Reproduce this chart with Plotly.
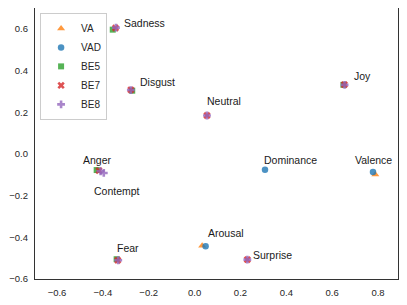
import plotly.graph_objects as go

# ---- data ----
va_labels = ["Valence", "Arousal"]
va_x = [0.788, 0.033]
va_y = [-0.098, -0.440]

vad_labels = ["Valence", "Arousal", "Dominance"]
vad_x = [0.778, 0.048, 0.307]
vad_y = [-0.086, -0.443, -0.075]

be5_labels = ["Anger", "Disgust", "Fear", "Joy", "Sadness"]
be5_x = [-0.427, -0.272, -0.340, 0.649, -0.357]
be5_y = [-0.077, 0.304, -0.505, 0.332, 0.597]

be7_labels = ["Anger", "Disgust", "Fear", "Joy", "Sadness", "Neutral", "Surprise"]
be7_x = [-0.417, -0.278, -0.335, 0.653, -0.345, 0.054, 0.230]
be7_y = [-0.080, 0.308, -0.510, 0.333, 0.605, 0.185, -0.507]

be8_labels = ["Anger", "Contempt", "Disgust", "Fear", "Joy", "Sadness", "Neutral", "Surprise"]
be8_x = [-0.410, -0.396, -0.278, -0.333, 0.654, -0.343, 0.054, 0.230]
be8_y = [-0.083, -0.091, 0.307, -0.510, 0.332, 0.607, 0.185, -0.507]

# text label anchors (data coordinates, left edge / vertical middle of text)
label_text = ["Sadness", "Disgust", "Neutral", "Anger", "Contempt", "Dominance",
              "Valence", "Arousal", "Surprise", "Fear", "Joy"]
label_x = [-0.317, -0.249, 0.046, -0.496, -0.448, 0.294, 0.691, 0.048, 0.246, -0.348, 0.688]
label_y = [0.628, 0.344, 0.253, -0.030, -0.177, -0.027, -0.027, -0.380, -0.483, -0.451, 0.373]

x_ticks = [-0.6, -0.4, -0.2, 0.0, 0.2, 0.4, 0.6, 0.8]
y_ticks = [-0.6, -0.4, -0.2, 0.0, 0.2, 0.4, 0.6]

FONT = "Liberation Sans, Arial, sans-serif"
series = [
    ("VA", va_x, va_y, va_labels, "#ff7f0e", "triangle-up", 7),
    ("VAD", vad_x, vad_y, vad_labels, "#1f77b4", "circle", 6.5),
    ("BE5", be5_x, be5_y, be5_labels, "#2ca02c", "square", 6),
    ("BE7", be7_x, be7_y, be7_labels, "#d62728", "x", 6.5),
    ("BE8", be8_x, be8_y, be8_labels, "#9467bd", "cross", 6.5),
]

fig = go.Figure()
for name, xs, ys, labs, col, sym, sz in series:
    fig.add_trace(go.Scatter(
        x=xs, y=ys, mode="markers", name=name, text=labs,
        marker=dict(color=col, symbol=sym, size=sz, opacity=0.8, line=dict(width=0)),
    ))

for t, x, y in zip(label_text, label_x, label_y):
    fig.add_annotation(x=x, y=y, text=t, showarrow=False, xanchor="left", yanchor="middle",
                       font=dict(family=FONT, size=10.5, color="#1a1a1a"))

axis_common = dict(
    showline=True, mirror=True, linecolor="#333333", linewidth=1.2,
    showgrid=False, zeroline=False, ticks="outside", ticklen=4,
    tickcolor="rgba(0,0,0,0)", tickformat=".1f",
    tickfont=dict(family=FONT, size=9.5, color="#262626"),
)
fig.update_xaxes(range=[-0.696, 0.887], tickvals=x_ticks, **axis_common)
fig.update_yaxes(range=[-0.6, 0.701], tickvals=y_ticks, **axis_common)

# page body has an 8px margin, so the figure is sized/offset to compensate
fig.update_layout(
    width=399, height=297,
    margin=dict(l=27, r=9, t=0, b=26),
    plot_bgcolor="white", paper_bgcolor="white",
    font=dict(family=FONT, color="#262626"),
    legend=dict(x=0.014, y=0.982, xanchor="left", yanchor="top",
                bgcolor="white", bordercolor="#cccccc", borderwidth=1,
                font=dict(family=FONT, size=10, color="#262626"),
                itemwidth=30, tracegroupgap=0),
    showlegend=True,
)

fig.write_html("out.html")
